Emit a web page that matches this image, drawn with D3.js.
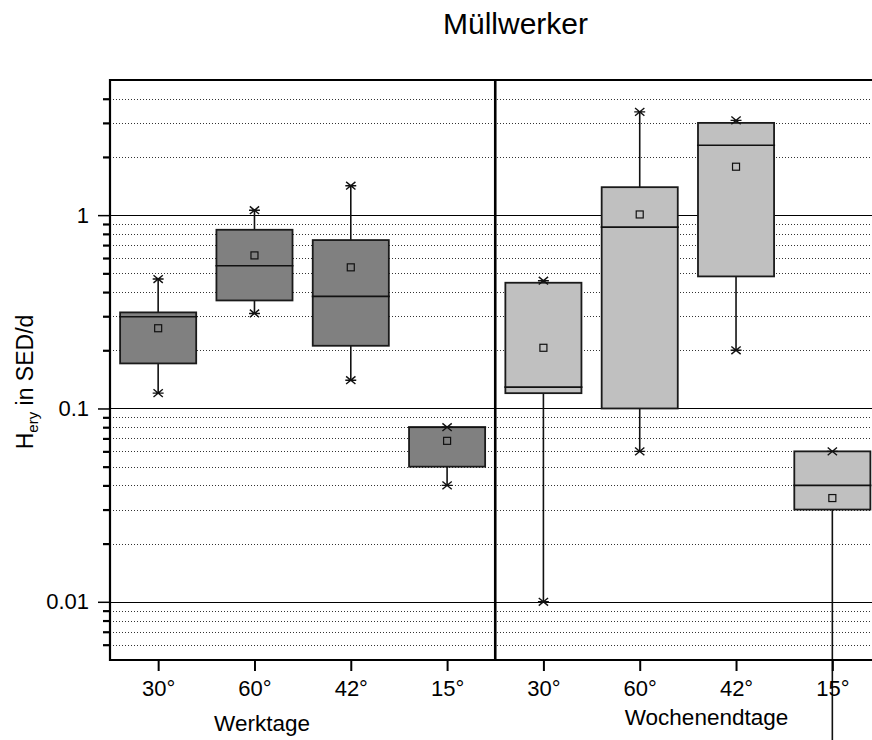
<!DOCTYPE html>
<html>
<head>
<meta charset="utf-8">
<script src="https://cdn.jsdelivr.net/npm/d3@7"></script>
<style>
  body{margin:0;background:#fff;}
  text{font-family:"Liberation Sans",Arial,sans-serif;fill:#000;}
</style>
</head>
<body>
<div id="chart"></div>
<script>
// groups and categories
const groups = ["Werktage","Wochenendtage"];
const angles = ["30°","60°","42°","15°"];

// box stats, order: Werktage 30/60/42/15, Wochenendtage 30/60/42/15
const whiskerHi = [0.467, 1.06, 1.42, 0.08, 0.458, 3.42, 3.09, 0.06];
const q3        = [0.314, 0.84, 0.743, 0.08, 0.447, 1.395, 3.0, 0.06];
const median    = [0.298, 0.547, 0.38, 0.08, 0.129, 0.867, 2.3, 0.04];
const mean      = [0.26, 0.619, 0.537, 0.068, 0.206, 1.008, 1.78, 0.0344];
const q1        = [0.171, 0.362, 0.211, 0.05, 0.12, 0.1, 0.482, 0.03];
const whiskerLo = [0.12, 0.31, 0.14, 0.04, 0.01, 0.06, 0.2, 0.001];

const yMajor = [0.01, 0.1, 1];
const yMajorLabels = ["0.01","0.1","1"];

const W = 872, H = 740;
const margin = {top:80, left:110, bottom:80};
const plotRight = 880.5;

const keys = [];
groups.forEach(g => angles.forEach(a => keys.push(g + "|" + a)));
const data = keys.map((k,i) => ({
  key:k, group:k.split("|")[0], angle:k.split("|")[1],
  hi:whiskerHi[i], q3:q3[i], med:median[i], mean:mean[i], q1:q1[i], lo:whiskerLo[i]
}));

const svg = d3.select("#chart").append("svg")
  .attr("width",W).attr("height",H);

const x = d3.scalePoint().domain(keys).range([margin.left, plotRight]).padding(0.5);
const y = d3.scaleLog().domain([0.005,5]).range([H - margin.bottom, margin.top]);
const step = x.step();
const boxW = step*0.79;
const yTop = margin.top, yBottom = H - margin.bottom;

const minor = y.ticks().filter(v => {
  const l = Math.log10(v);
  return Math.abs(l - Math.round(l)) > 1e-9 && v > 0.005*1.0001 && v < 5*0.9999;
});

// grid
svg.append("g").selectAll("line.minor").data(minor).join("line")
  .attr("x1",margin.left).attr("x2",plotRight)
  .attr("y1",d => Math.round(y(d))+0.5).attr("y2",d => Math.round(y(d))+0.5)
  .attr("stroke","#333").attr("stroke-width",1).attr("stroke-dasharray","1,2");
svg.append("g").selectAll("line.major").data(yMajor).join("line")
  .attr("x1",margin.left).attr("x2",plotRight)
  .attr("y1",d => Math.round(y(d))+0.5).attr("y2",d => Math.round(y(d))+0.5)
  .attr("stroke","#000").attr("stroke-width",1);

// boxes
const boxes = svg.append("g").selectAll("g").data(data).join("g");
const fill = d => d.group === groups[0] ? "#808080" : "#c0c0c0";

boxes.append("line")
  .attr("x1",d => x(d.key)).attr("x2",d => x(d.key))
  .attr("y1",d => y(d.q3)).attr("y2",d => y(d.hi))
  .attr("stroke","#111").attr("stroke-width",1.6);
boxes.append("line")
  .attr("x1",d => x(d.key)).attr("x2",d => x(d.key))
  .attr("y1",d => y(d.q1)).attr("y2",d => y(d.lo))
  .attr("stroke","#111").attr("stroke-width",1.6);
boxes.append("rect")
  .attr("x",d => x(d.key) - boxW/2).attr("width",boxW)
  .attr("y",d => y(d.q3)).attr("height",d => y(d.q1) - y(d.q3))
  .attr("fill",fill).attr("stroke","#1a1a1a").attr("stroke-width",1.8);
boxes.append("line")
  .attr("x1",d => x(d.key) - boxW/2 - 1).attr("x2",d => x(d.key) + boxW/2 + 1)
  .attr("y1",d => y(d.med)).attr("y2",d => y(d.med))
  .attr("stroke","#111").attr("stroke-width",1.6);
boxes.append("rect")
  .attr("x",d => x(d.key) - 3.5).attr("y",d => y(d.mean) - 3.5)
  .attr("width",7).attr("height",7)
  .attr("fill",fill).attr("stroke","#111").attr("stroke-width",1.2);

// asterisk markers at whisker ends
const star = {draw(ctx,size){
  const r = Math.sqrt(size)/2;
  ctx.moveTo(-r,0); ctx.lineTo(r,0);
  ctx.moveTo(-r*0.85,-r*0.7); ctx.lineTo(r*0.85,r*0.7);
  ctx.moveTo(-r*0.85,r*0.7); ctx.lineTo(r*0.85,-r*0.7);
}};
const starPath = d3.symbol().type(star).size(120);
boxes.selectAll("path.star").data(d => [[d.key,d.hi],[d.key,d.lo]]).join("path")
  .attr("class","star")
  .attr("transform",d => `translate(${x(d[0])},${y(d[1])})`)
  .attr("d",starPath)
  .attr("fill","none").attr("stroke","#111").attr("stroke-width",1.4);

// y axis
const yAxis = svg.append("g").attr("transform",`translate(${margin.left},0)`)
  .call(d3.axisLeft(y).tickValues(yMajor).tickSize(12).tickPadding(9)
    .tickFormat((d,i) => yMajorLabels[i]));
yAxis.select(".domain").remove();
yAxis.selectAll(".tick line").attr("stroke","#000").attr("stroke-width",1.5);
yAxis.selectAll("text").style("font-size","22px").attr("font-family",null);

const yMinor = svg.append("g").attr("transform",`translate(${margin.left},0)`)
  .call(d3.axisLeft(y).tickValues(minor).tickSize(7).tickFormat(""));
yMinor.select(".domain").remove();
yMinor.selectAll(".tick line").attr("stroke","#000").attr("stroke-width",2.2);

// x axis
const xAxis = svg.append("g").attr("transform",`translate(0,${yBottom})`)
  .call(d3.axisBottom(x).tickSize(11).tickPadding(9.5).tickFormat(d => d.split("|")[1]));
xAxis.select(".domain").remove();
xAxis.selectAll(".tick line").attr("stroke","#000").attr("stroke-width",2);
xAxis.selectAll("text").style("font-size","22px").attr("font-family",null);

// frame
svg.append("line").attr("x1",margin.left-1).attr("x2",plotRight).attr("y1",yTop).attr("y2",yTop)
  .attr("stroke","#000").attr("stroke-width",2);
svg.append("line").attr("x1",margin.left-1).attr("x2",plotRight).attr("y1",yBottom).attr("y2",yBottom)
  .attr("stroke","#000").attr("stroke-width",2);
svg.append("line").attr("x1",margin.left).attr("x2",margin.left).attr("y1",yTop-1).attr("y2",yBottom+1)
  .attr("stroke","#000").attr("stroke-width",2.2);
const divX = (x(keys[3]) + x(keys[4]))/2;
svg.append("line").attr("x1",divX).attr("x2",divX).attr("y1",yTop-1).attr("y2",yBottom+1)
  .attr("stroke","#000").attr("stroke-width",2.6);

// titles
svg.append("text").attr("x",515.5).attr("y",34).attr("text-anchor","middle")
  .style("font-size","30px").text("Müllwerker");

svg.append("text").attr("x",262).attr("y",731).attr("text-anchor","middle")
  .style("font-size","22.5px").text(groups[0]);
svg.append("text").attr("x",706.5).attr("y",725).attr("text-anchor","middle")
  .style("font-size","22.5px").text(groups[1]);

const yl = svg.append("text").attr("transform","translate(33,382) rotate(-90)")
  .attr("text-anchor","middle").style("font-size","23px");
yl.append("tspan").text("H");
yl.append("tspan").attr("dy",5).style("font-size","15px").text("ery");
yl.append("tspan").attr("dy",-5).text(" in SED/d");
</script>
</body>
</html>
